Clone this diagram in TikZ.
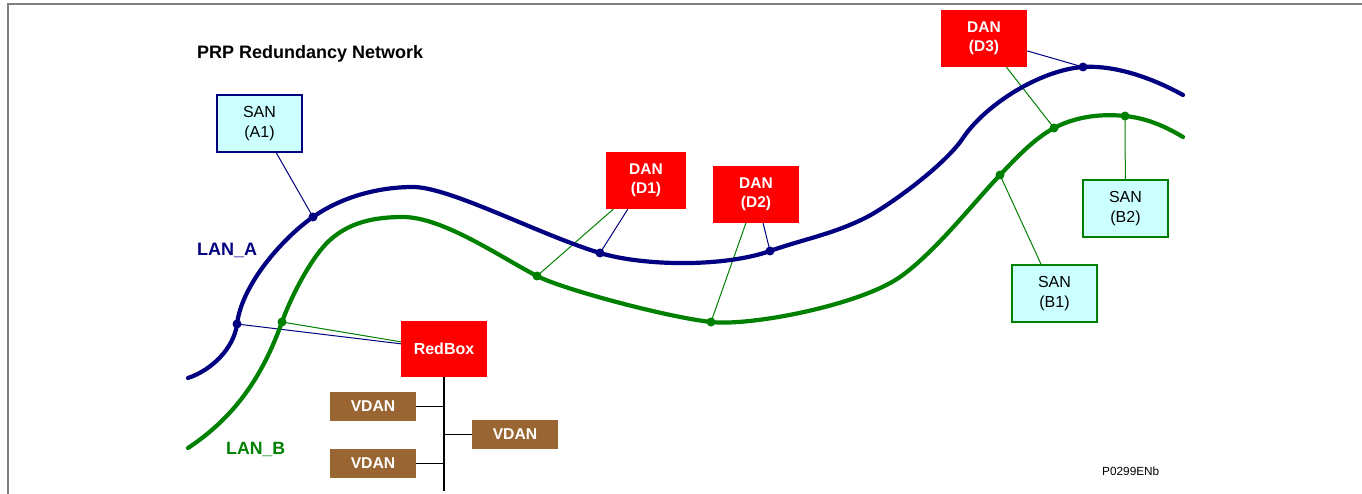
\documentclass[tikz,border=0pt]{standalone}
\usepackage{fontspec}
\setmainfont{Liberation Sans}
\definecolor{navyc}{RGB}{0,0,128}
\definecolor{greenc}{RGB}{0,128,0}
\definecolor{cyanc}{RGB}{204,255,255}
\definecolor{brownc}{RGB}{153,102,51}
\definecolor{redc}{RGB}{255,0,0}
\definecolor{framec}{RGB}{128,128,128}
\begin{document}
\begin{tikzpicture}[x=1pt,y=-1pt,
  lana/.style={draw=navyc, line width=4.2pt, line cap=round},
  lanb/.style={draw=greenc, line width=4.2pt, line cap=round},
  conna/.style={draw=navyc, line width=1pt},
  connb/.style={draw=greenc, line width=1pt},
  sanbox/.style={draw, line width=1.4pt, fill=cyanc, minimum width=85pt, minimum height=57pt, inner sep=0pt, align=center, font=\fontsize{16}{19.5}\selectfont},
  danbox/.style={fill=redc, text=white, minimum width=86pt, minimum height=57pt, inner sep=0pt, align=center, font=\bfseries\fontsize{15.5}{19.5}\selectfont},
  vdanbox/.style={fill=brownc, text=white, minimum width=86pt, minimum height=29pt, inner sep=0pt, font=\bfseries\fontsize{15.7}{18}\selectfont},
  dotA/.style={fill=navyc},
  dotB/.style={fill=greenc}]
\useasboundingbox (0,0) rectangle (1362,494);
\draw[framec, line width=2pt] (8,494) -- (8,4) -- (1362,4);

% title and labels
\node[anchor=base west, inner sep=0pt, font=\bfseries\fontsize{18}{20}\selectfont] (title) at (197,58.3) {PRP Redundancy Network};
\node[anchor=base west, inner sep=0pt, text=navyc, font=\bfseries\fontsize{18}{20}\selectfont] (lanAlab) at (197,256) {LAN\_A};
\node[anchor=base west, inner sep=0pt, text=greenc, font=\bfseries\fontsize{17.7}{20}\selectfont] (lanBlab) at (226,454) {LAN\_B};
\node[anchor=base west, inner sep=0pt, font=\fontsize{11.8}{14}\selectfont] (ref) at (1102,475) {P0299ENb};

% attachment points
\coordinate (pA1) at (313,217);
\coordinate (pAD1) at (600,253);
\coordinate (pAD2) at (770,251);
\coordinate (pAD3) at (1083,67);
\coordinate (pAR) at (237,324);
\coordinate (pBD1) at (537,276);
\coordinate (pBD2) at (711,322);
\coordinate (pBD3) at (1054,128);
\coordinate (pBB1) at (1000,175);
\coordinate (pBB2) at (1125,116);
\coordinate (pBR) at (282,322);

% nodes
\node[sanbox, draw=navyc] (A1) at (259.5,123.5) {SAN\\(A1)};
\node[danbox, minimum width=80pt] (D1) at (646,180.5) {DAN\\(D1)};
\node[danbox] (D2) at (756,194.5) {DAN\\(D2)};
\node[danbox] (D3) at (984,38.5) {DAN\\(D3)};
\node[sanbox, draw=greenc] (B2) at (1125.5,208.5) {SAN\\(B2)};
\node[sanbox, draw=greenc] (B1) at (1054.5,293.5) {SAN\\(B1)};
\node[danbox, minimum height=56pt, font=\bfseries\fontsize{16}{19}\selectfont] (RB) at (444,349) {RedBox};
\node[vdanbox] (V1) at (373,406.5) {VDAN};
\node[vdanbox] (V2) at (515,434.5) {VDAN};
\node[vdanbox] (V3) at (373,463.5) {VDAN};
\coordinate (busEnd) at (444,491);

% connectors
\draw[conna] (pA1) -- (A1);
\draw[conna] (pAD1) -- (D1);
\draw[connb] (pBD1) -- (D1);
\draw[conna] (pAD2) -- (D2);
\draw[connb] (pBD2) -- (D2);
\draw[conna] (pAD3) -- (D3);
\draw[connb] (pBD3) -- (D3);
\draw[connb] (pBB1) -- (B1);
\draw[connb] (pBB2) -- (B2);
\draw[conna] (pAR) -- (RB);
\draw[connb] (pBR) -- (RB);

% LAN_A curve
\coordinate (aStart) at (188,378);
\coordinate (aEnd) at (1183,95);
\draw[lana] (aStart) .. controls (212,370) and (234,348) .. (pAR)
  .. controls (242,284) and (283,238) .. (pA1)
  .. controls (343,196) and (380,187) .. (413,187)
  .. controls (450,187) and (540,235) .. (pAD1)
  .. controls (645,266.5) and (725,267) .. (pAD2)
  .. controls (803,239.3) and (834,234) .. (867,217)
  .. controls (890,205) and (945,165) .. (963,138)
  .. controls (985,105) and (1040,70) .. (pAD3)
  .. controls (1108,65.3) and (1143,73) .. (aEnd);

% LAN_B curve
\coordinate (bStart) at (188,448);
\coordinate (bEnd) at (1183,137);
\draw[lanb] (bStart) .. controls (238,415) and (264,372) .. (pBR)
  .. controls (292,294) and (313,255) .. (330,240)
  .. controls (350,222) and (375,217) .. (403,217)
  .. controls (443,217) and (502,258) .. (pBD1)
  .. controls (562,289) and (666,317) .. (pBD2)
  .. controls (751,326.4) and (860,305) .. (900,277)
  .. controls (935,252.5) and (975,201) .. (pBB1)
  .. controls (1018,156) and (1034,139) .. (pBD3)
  .. controls (1079,115) and (1105,114) .. (pBB2)
  .. controls (1145,118) and (1163,125) .. (bEnd);

% dots
\foreach \p in {pA1,pAD1,pAD2,pAD3,pAR} \fill[dotA] (\p) circle (4.5pt);
\foreach \p in {pBD1,pBD2,pBD3,pBB1,pBB2,pBR} \fill[dotB] (\p) circle (4.5pt);

% RedBox bus
\draw[black, line width=2.5pt] (RB.south) -- (busEnd);
\draw[black, line width=1.2pt] (V1.east) -- (V1.east -| RB.south);
\draw[black, line width=1.2pt] (V2.west) -- (V2.west -| RB.south);
\draw[black, line width=1.2pt] (V3.east) -- (V3.east -| RB.south);
\end{tikzpicture}
\end{document}
